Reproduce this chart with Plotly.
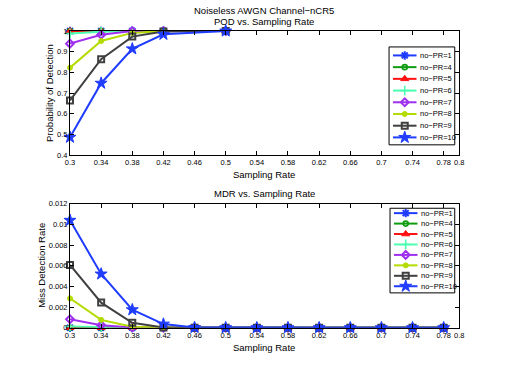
import plotly.graph_objects as go

# ---------------- data ----------------
names = ["no−PR=1", "no−PR=4", "no−PR=5", "no−PR=6", "no−PR=7", "no−PR=8", "no−PR=9", "no−PR=10"]

rate_pod = [0.30, 0.34, 0.38, 0.42, 0.50]
pod_pr1 = [1.0, 1.0, 1.0, 1.0, 1.0]
pod_pr4 = [1.0, 1.0, 1.0, 1.0, 1.0]
pod_pr5 = [1.0, 1.0, 1.0, 1.0, 1.0]
pod_pr6 = [0.988, 0.997, 1.0, 1.0, 1.0]
pod_pr7 = [0.939, 0.982, 1.0, 1.0, 1.0]
pod_pr8 = [0.823, 0.952, 0.991, 1.0, 1.0]
pod_pr9 = [0.665, 0.864, 0.973, 0.998, 1.0]
pod_pr10 = [0.487, 0.748, 0.914, 0.984, 1.0]

rate_mdr = [0.30, 0.34, 0.38, 0.42, 0.46, 0.50, 0.54, 0.58, 0.62, 0.66, 0.70, 0.74, 0.78]
mdr_pr1 = [0.0] * 13
mdr_pr4 = [0.0] * 13
mdr_pr5 = [0.0] * 13
mdr_pr6 = [0.00012, 0.00005, 0.0, 0, 0, 0, 0, 0, 0, 0, 0, 0, 0]
mdr_pr7 = [0.00082, 0.00025, 0.00002, 0, 0, 0, 0, 0, 0, 0, 0, 0, 0]
mdr_pr8 = [0.00284, 0.00076, 0.0001, 0.0, 0, 0, 0, 0, 0, 0, 0, 0, 0]
mdr_pr9 = [0.00608, 0.00243, 0.00047, 0.00003, 0, 0, 0, 0, 0, 0, 0, 0, 0]
mdr_pr10 = [0.0104, 0.0052, 0.00174, 0.00035, 0.00002, 0, 0, 0, 0, 0, 0, 0, 0]

x_ticks = [0.3, 0.34, 0.38, 0.42, 0.46, 0.5, 0.54, 0.58, 0.62, 0.66, 0.7, 0.74, 0.78, 0.8]
x_ticktext = ["0.3", "0.34", "0.38", "0.42", "0.46", "0.5", "0.54", "0.58", "0.62", "0.66", "0.7", "0.74", "0.78", "0.8"]
pod_ticks = [0.4, 0.5, 0.6, 0.7, 0.8, 0.9, 1.0]
pod_ticktext = ["0.4", "0.5", "0.6", "0.7", "0.8", "0.9", "1"]
mdr_ticks = [0, 0.002, 0.004, 0.006, 0.008, 0.01, 0.012]
mdr_ticktext = ["0", "0.002", "0.004", "0.006", "0.008", "0.01", "0.012"]

pod_series = [pod_pr1, pod_pr4, pod_pr5, pod_pr6, pod_pr7, pod_pr8, pod_pr9, pod_pr10]
mdr_series = [mdr_pr1, mdr_pr4, mdr_pr5, mdr_pr6, mdr_pr7, mdr_pr8, mdr_pr9, mdr_pr10]

# ---------------- styles ----------------
colors = ["#1f3cff", "#109c10", "#ff1010", "#4dffb0", "#a030f0", "#b4dc00", "#404040", "#1f3cff"]
symbols = ["asterisk-open", "circle-open", "triangle-up", "cross-thin-open",
           "diamond-open", "circle", "square-open", "star"]
msizes = [7, 5, 7, 7, 6, 5, 6, 9]
mlw = [2, 1.6, 1, 1.6, 2, 1, 2, 1]

W, H = 512, 374
FONT = "Liberation Sans, Arial, sans-serif"

fig = go.Figure()

def add_series(xs, series, xa, ya):
    for i, ys in enumerate(series):
        fig.add_trace(go.Scatter(
            x=xs, y=ys, mode="lines+markers", xaxis=xa, yaxis=ya,
            line=dict(color=colors[i], width=2),
            marker=dict(symbol=symbols[i], size=msizes[i], color=colors[i],
                        line=dict(color=colors[i], width=mlw[i])),
            cliponaxis=False, showlegend=False, name=names[i]))

add_series(rate_pod, pod_series, "x", "y")
add_series(rate_mdr, mdr_series, "x2", "y2")

# ---------------- custom legends (overlay pixel axes) ----------------
legend_boxes = [  # x0, x1, y0, y1, first row y, row step
    (391.7, 458.7, 44.0, 144.3, 52.7, 12.0),
    (392.7, 458.7, 209.3, 296.0, 214.3, 10.7),
]
shapes = []
annotations = []
for (bx0, bx1, by0, by1, r0, dr) in legend_boxes:
    shapes.append(dict(type="rect", xref="x3", yref="y3", x0=bx0, x1=bx1, y0=by0, y1=by1,
                       line=dict(color="black", width=1), fillcolor="white", layer="between"))
    for i in range(8):
        ry = r0 + dr * i
        lx0, lx1 = bx0 + 4, bx0 + 28
        fig.add_trace(go.Scatter(x=[lx0, lx1], y=[ry, ry], mode="lines", xaxis="x3", yaxis="y3",
                                 line=dict(color=colors[i], width=2), showlegend=False, hoverinfo="skip"))
        fig.add_trace(go.Scatter(x=[(lx0 + lx1) / 2], y=[ry], mode="markers", xaxis="x3", yaxis="y3",
                                 marker=dict(symbol=symbols[i], size=msizes[i], color=colors[i],
                                             line=dict(color=colors[i], width=mlw[i])),
                                 showlegend=False, hoverinfo="skip"))
        annotations.append(dict(xref="x3", yref="y3", x=lx1 + 1.5, y=ry, text=names[i], showarrow=False,
                                xanchor="left", yanchor="middle", font=dict(size=7.5, color="black", family=FONT)))

# ---------------- titles / labels ----------------
def ann(x, y, text, size, angle=0):
    annotations.append(dict(xref="x3", yref="y3", x=x, y=y, text=text, showarrow=False,
                            xanchor="center", yanchor="middle", textangle=angle,
                            font=dict(size=size, color="black", family=FONT)))

ann(264.5, 6.5, "Noiseless AWGN Channel−nCR5", 9.5)
ann(264.5, 17.5, "POD vs. Sampling Rate", 9.5)
ann(264.5, 174.5, "Sampling Rate", 9.5)
ann(46, 91, "Probability of Detection", 9.5, -90)
ann(264.5, 194.5, "MDR vs. Sampling Rate", 9.5)
ann(264.5, 351.5, "Sampling Rate", 9.5)
ann(37, 268, "Miss Detection Rate", 9.5, -90)

xd = [66.3 / W, 463.3 / W]
axis_common = dict(showline=True, mirror="ticks", linecolor="black", linewidth=1,
                   ticks="inside", ticklen=4, tickwidth=1, tickcolor="black",
                   showgrid=False, zeroline=False,
                   tickfont=dict(size=7.5, color="black", family=FONT))

fig.update_layout(
    width=W, height=H, margin=dict(l=0, r=0, t=0, b=0),
    paper_bgcolor="white", plot_bgcolor="rgba(0,0,0,0)",
    showlegend=False,
    xaxis=dict(domain=xd, range=[0.3, 0.8], tickvals=x_ticks, ticktext=x_ticktext, anchor="y", **axis_common),
    yaxis=dict(domain=[1 - 155.0 / H, 1 - 27.7 / H], range=[0.4, 1.0], tickvals=pod_ticks,
               ticktext=pod_ticktext, anchor="x", **axis_common),
    xaxis2=dict(domain=xd, range=[0.3, 0.8], tickvals=x_ticks, ticktext=x_ticktext, anchor="y2", **axis_common),
    yaxis2=dict(domain=[1 - 331.7 / H, 1 - 204.7 / H], range=[0, 0.012], tickvals=mdr_ticks,
                ticktext=mdr_ticktext, anchor="x2", **axis_common),
    xaxis3=dict(domain=[0, 1], range=[0, W], visible=False, anchor="y3", fixedrange=True),
    yaxis3=dict(domain=[0, 1], range=[H, 0], visible=False, anchor="x3", fixedrange=True),
    shapes=shapes,
    annotations=annotations,
)

fig.write_html("out.html", config={"displayModeBar": False},
               post_script="document.body.style.margin='0';document.body.style.overflow='hidden';")
